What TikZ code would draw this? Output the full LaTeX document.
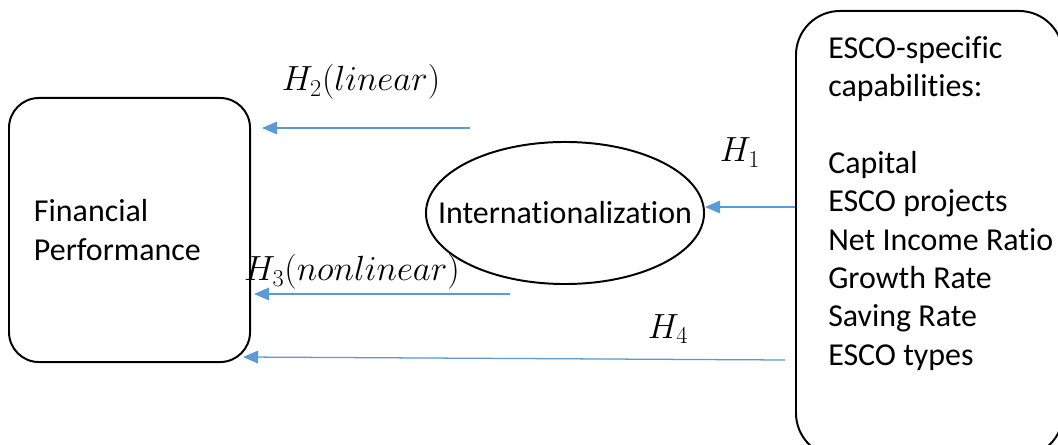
\documentclass[tikz,border=0pt]{standalone}
\usepackage{fontspec}
\setmainfont{Carlito}[Ligatures=NoCommon]
\usetikzlibrary{shapes.geometric,arrows.meta,positioning,calc}
\definecolor{arrowblue}{HTML}{5B9BD5}
\tikzset{
    construct/.style={rectangle, draw, line width=1.4pt, align=left, font=\fontsize{22.7}{27.3}\selectfont},
    mediator/.style={ellipse, draw, line width=1.4pt, inner sep=0pt, minimum width=6.95cm, minimum height=3.55cm},
    hyp/.style={-{Triangle[length=0.38cm, width=0.32cm]}, line width=0.9pt, draw=arrowblue, fill=arrowblue},
    hlabel/.style={anchor=base, inner sep=0pt, font=\fontsize{23.5}{27}\selectfont},
}

\begin{document}
\begin{tikzpicture}[x=0.025cm, y=-0.025cm]
    \useasboundingbox (0,0) rectangle (1058,445);
    % constructs
    \node[construct, rounded corners=0.75cm, anchor=north west, minimum width=6.025cm, minimum height=6.6cm, text width=4.775cm, inner xsep=0.625cm] (fin) at (8,97) {Financial\\Performance};
    \node[mediator, label={[font=\fontsize{22.7}{27.3}\selectfont]center:Internationalization}] (intl) at (565,213) {};
    \node[construct, rounded corners=1.1cm, anchor=north west, minimum width=6.675cm, minimum height=11.15cm] (esco) at (795,10) {};
    \node[anchor=north west, inner sep=0pt, align=left, font=\fontsize{22.7}{27.3}\selectfont] (escotext) at (828,36) {%
        ESCO-specific\\
        capabilities:\\[27.3pt]
        Capital\\
        ESCO projects\\
        Net Income Ratio\\
        Growth Rate\\
        Saving Rate\\
        ESCO types};

    % hypotheses
    \coordinate (h1s) at (esco.west |- 0,207);
    \coordinate (h2s) at (470,128);
    \coordinate (h3s) at (510,294);
    \coordinate (h4s) at (785,360);
    \coordinate (h4e) at (243,357);
    \draw[hyp] (h1s) -- (h1s -| intl.east);
    \draw[hyp, shorten >=0.275cm] (h2s) -- (h2s -| fin.east);
    \draw[hyp, shorten >=0.075cm] (h3s) -- (h3s -| fin.east);
    \draw[hyp] (h4s) -- (h4e);

    \node[hlabel] (h1) at (740,162) {$H_1$};
    \node[hlabel] (h2) at (361,91) {$H_2(linear)$};
    \node[hlabel] (h3) at (352,281) {$H_3(nonlinear)$};
    \node[hlabel] (h4) at (668,338) {$H_4$};
\end{tikzpicture}
\end{document}
